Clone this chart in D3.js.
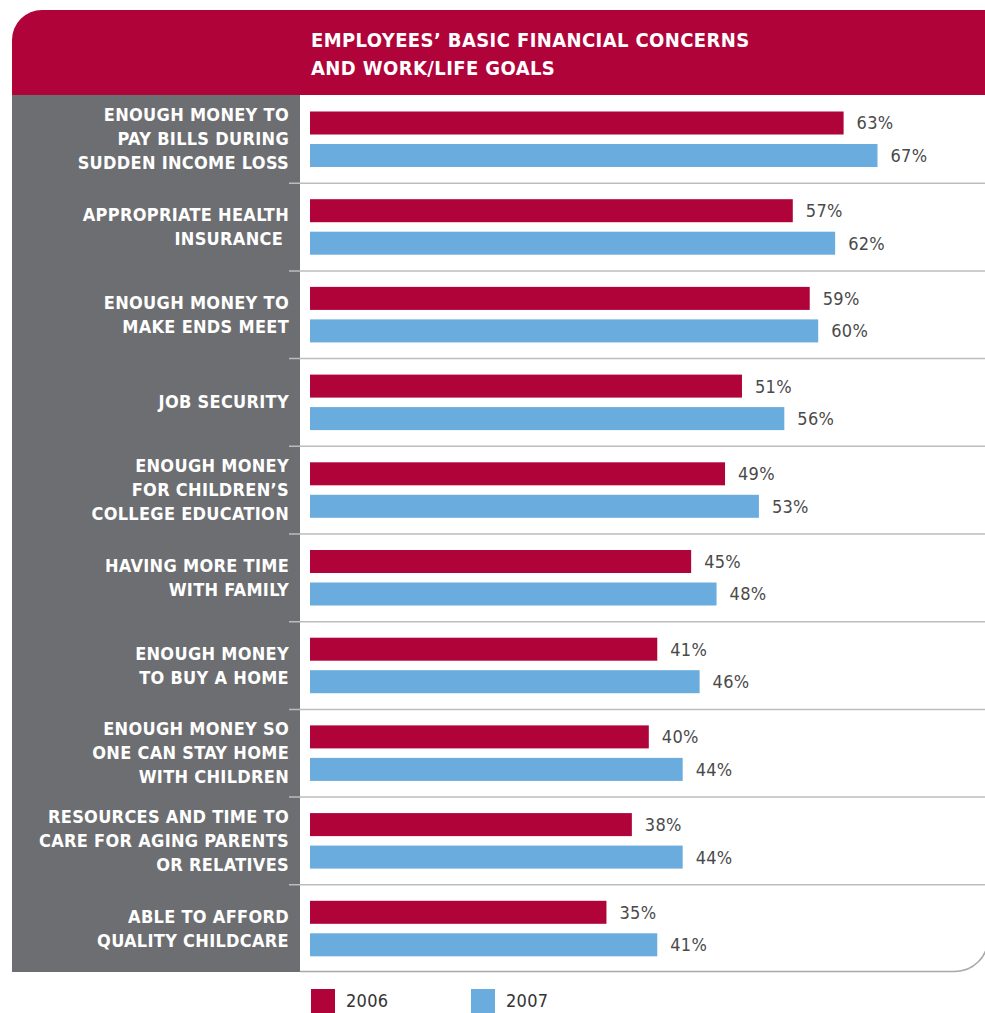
<!DOCTYPE html>
<html>
<head>
<meta charset="utf-8">
<script src="https://cdn.jsdelivr.net/npm/d3@7"></script>
<style>
  html, body { margin: 0; padding: 0; background: #fff; }
  svg { display: block; }
  .cond { font-family: "DejaVu Sans Condensed", "DejaVu Sans", sans-serif; }
</style>
</head>
<body>
<svg id="chart" width="985" height="1013"></svg>
<script>
// Survey items, one entry per row; "\n" marks a line break in the row label
const categories = [
  "ENOUGH MONEY TO\nPAY BILLS DURING\nSUDDEN INCOME LOSS",
  "APPROPRIATE HEALTH\nINSURANCE\u00a0",
  "ENOUGH MONEY TO\nMAKE ENDS MEET",
  "JOB SECURITY",
  "ENOUGH MONEY\nFOR CHILDREN\u2019S\nCOLLEGE EDUCATION",
  "HAVING MORE TIME\nWITH FAMILY",
  "ENOUGH MONEY\nTO BUY A HOME",
  "ENOUGH MONEY SO\nONE CAN STAY HOME\nWITH CHILDREN",
  "RESOURCES AND TIME TO\nCARE FOR AGING PARENTS\nOR RELATIVES",
  "ABLE TO AFFORD\nQUALITY CHILDCARE"
];
const seriesNames = ["2006", "2007"];
const values2006 = [63, 57, 59, 51, 49, 45, 41, 40, 38, 35];
const values2007 = [67, 62, 60, 56, 53, 48, 46, 44, 44, 41];
const titleLines = ["EMPLOYEES\u2019 BASIC FINANCIAL CONCERNS", "AND WORK/LIFE GOALS"];

const RED = "#b0033a";
const BLUE = "#6aacde";
const GRAY = "#6d6e71";
const RULE = "#bcbcbc";

const svg = d3.select("#chart");

const left = 12, panelX = 300, headerTop = 10, headerBottom = 95, bottom = 972, right = 985;

// scales
const x = d3.scaleLinear().domain([0, 100]).range([310, 1157]);
const y = d3.scaleBand().domain(d3.range(categories.length)).range([headerBottom, bottom]).padding(0);
const inner = d3.scaleBand().domain(seriesNames).range([16.5, 72]).paddingInner(0.292).paddingOuter(0);
const color = d3.scaleOrdinal().domain(seriesNames).range([RED, BLUE]);

const rows = categories.map((c, i) => ({
  label: c, i,
  vals: [{ s: "2006", v: values2006[i] }, { s: "2007", v: values2007[i] }]
}));

// header band with a rounded top-left corner
const r = 30;
svg.append("path")
  .attr("d", `M${left},${headerBottom} V${headerTop + r} A${r},${r} 0 0 1 ${left + r},${headerTop} H${right} V${headerBottom} Z`)
  .attr("fill", RED);

svg.append("g").attr("class", "cond")
  .selectAll("text").data(titleLines).join("text")
  .attr("x", 311)
  .attr("y", (d, i) => 47 + i * 28)
  .attr("fill", "#fff")
  .attr("font-weight", "bold")
  .attr("font-size", 20)
  .attr("letter-spacing", 0.4)
  .text(d => d);

// grey label column
svg.append("rect")
  .attr("x", left).attr("y", headerBottom)
  .attr("width", panelX - left).attr("height", bottom - headerBottom)
  .attr("fill", GRAY);

// row separators
svg.append("g").selectAll("line")
  .data(d3.range(1, categories.length)).join("line")
  .attr("x1", 289).attr("x2", right)
  .attr("y1", d => y(d) + 0.5).attr("y2", d => y(d) + 0.5)
  .attr("stroke", RULE).attr("stroke-width", 1.5);

// frame bottom edge with rounded corner
const rc = 33;
svg.append("path")
  .attr("d", `M${panelX},${bottom - 0.5} H${right + 3 - rc} A${rc},${rc} 0 0 0 ${right + 3},${bottom - 0.5 - rc}`)
  .attr("fill", "none").attr("stroke", "#a8a8a8").attr("stroke-width", 1.5);

const rowG = svg.append("g").selectAll("g").data(rows).join("g")
  .attr("transform", d => `translate(0,${y(d.i)})`);

// row labels
rowG.append("text").attr("class", "cond")
  .attr("text-anchor", "end")
  .attr("fill", "#fff")
  .attr("font-weight", "bold")
  .attr("font-size", 18)
  .attr("letter-spacing", 0.3)
  .each(function (d) {
    const lines = d.label.split("\n");
    const t = d3.select(this);
    const c = y.bandwidth() / 2;
    lines.forEach((ln, k) => {
      t.append("tspan")
        .attr("x", 289)
        .attr("y", c + (k - (lines.length - 1) / 2) * 24)
        .attr("dy", "0.36em")
        .text(ln);
    });
  });

// bars
rowG.selectAll("rect.bar").data(d => d.vals).join("rect")
  .attr("class", "bar")
  .attr("x", x(0))
  .attr("y", d => inner(d.s))
  .attr("width", d => x(d.v) - x(0))
  .attr("height", inner.bandwidth())
  .attr("fill", d => color(d.s));

// value labels
rowG.selectAll("text.val").data(d => d.vals).join("text")
  .attr("class", "val cond")
  .attr("x", d => x(d.v) + 13)
  .attr("y", d => inner(d.s) + inner.bandwidth() / 2)
  .attr("dy", "0.36em")
  .attr("fill", "#4a4a4a")
  .attr("font-size", 18)
  .attr("letter-spacing", 0.3)
  .text(d => d.v + "%");

// legend
const lg = svg.append("g").selectAll("g").data(seriesNames).join("g")
  .attr("transform", (d, i) => `translate(${311 + i * 160},989)`);
lg.append("rect").attr("width", 24).attr("height", 26).attr("fill", d => color(d));
lg.append("text").attr("class", "cond")
  .attr("x", 35).attr("y", 12).attr("dy", "0.36em")
  .attr("fill", "#333").attr("font-size", 18).attr("letter-spacing", 0.3)
  .text(d => d);
</script>
</body>
</html>
